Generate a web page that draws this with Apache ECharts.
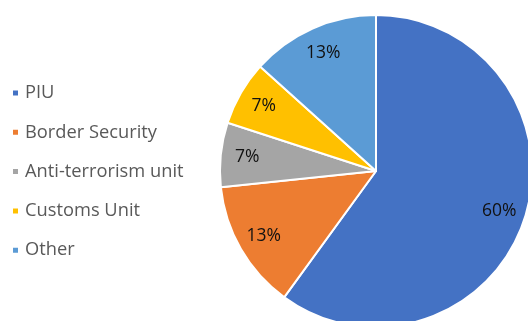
<!DOCTYPE html>
<html>
<head>
<meta charset="utf-8">
<script src="https://cdn.jsdelivr.net/npm/echarts@6/dist/echarts.min.js"></script>
<style>
  html, body { margin: 0; padding: 0; background: #fff; }
  #main { width: 528px; height: 321px; }
</style>
</head>
<body>
<div id="main"></div>
<script>
// units, read as counts (labels round to 60/13/7/7/13 %)
const categories = ['PIU', 'Border Security', 'Anti-terrorism unit', 'Customs Unit', 'Other']
const counts = [9, 2, 1, 1, 2]
const colors = ['#4472C4', '#ED7D31', '#A5A5A5', '#FFC000', '#5B9BD5']

const pieData = categories.map(function (name, i) {
  return { name: name, value: counts[i], itemStyle: { color: colors[i] } }
})

let myChart = echarts.init(document.getElementById('main'))
myChart.setOption({
  backgroundColor: '#fff',
  animation: false,
  legend: {
    orient: 'vertical',
    left: 6,
    top: 79,
    itemWidth: 7,
    itemHeight: 7,
    itemGap: 21.3,
    icon: 'rect',
    textStyle: {
      color: '#595959',
      fontSize: 18.3,
      fontFamily: 'Open Sans',
      padding: [0, 0, 0, 1]
    },
    data: categories
  },
  series: [
    {
      type: 'pie',
      center: [376, 171],
      radius: 156,
      startAngle: 90,
      clockwise: true,
      silent: true,
      label: { show: false },
      labelLine: { show: false },
      itemStyle: { borderColor: '#fff', borderWidth: 2 },
      data: pieData
    },
    {
      // transparent ring only used to put the labels at ~0.8 r
      type: 'pie',
      center: [376, 171],
      radius: [97, 156],
      startAngle: 90,
      clockwise: true,
      silent: true,
      itemStyle: { color: 'rgba(0,0,0,0)' },
      label: {
        show: true,
        position: 'inside',
        color: '#111',
        fontSize: 17.5,
        fontFamily: 'Open Sans',
        formatter: function (p) {
          return Math.round(p.percent) + '%'
        }
      },
      labelLine: { show: false },
      data: categories.map(function (name, i) {
        return { name: name, value: counts[i] }
      })
    }
  ]
})
</script>
</body>
</html>
